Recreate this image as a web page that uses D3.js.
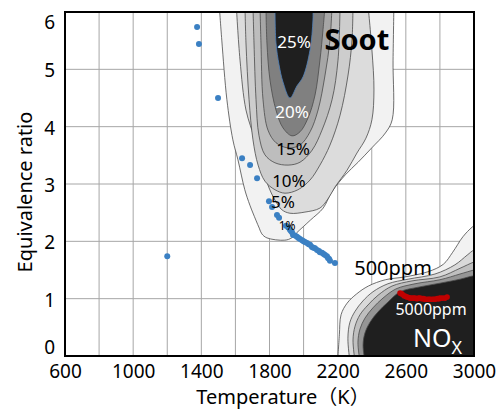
<!DOCTYPE html>
<html>
<head>
<meta charset="utf-8">
<script src="https://cdn.jsdelivr.net/npm/d3@7"></script>
<style>
body { margin: 0; background: #fff; }
svg { display: block; }
text { font-family: "Noto Sans", "Noto Sans CJK SC", sans-serif; }
</style>
</head>
<body>
<div id="chart"></div>
<script>
const width = 498;
const height = 411;

// axis ticks
const xTicks = [600, 1000, 1400, 1800, 2200, 2600, 3000];
const xGrid = [600, 800, 1000, 1200, 1400, 1600, 1800, 2000, 2200, 2400, 2600, 2800, 3000];
const yTicks = [0, 1, 2, 3, 4, 5, 6];

// soot contours, outermost first: [temperature K, equivalence ratio]
const soot1 = [[1505,6.12],[1520,5.51],[1550,4.47],[1585,3.77],[1615,3.42],[1655,2.90],[1685,2.63],[1720,2.37],[1740,2.23],[1755,2.13],[1785,2.06],[1890,2.02],[1930,2.06],[1960,2.15],[2040,2.37],[2115,2.58],[2165,2.86],[2245,3.16],[2320,3.38],[2400,3.63],[2480,3.89],[2520,4.12],[2525,5.16],[2530,6.12]];
const soot2 = [[1605,6.12],[1627,5.16],[1662,4.29],[1715,3.77],[1756,3.33],[1791,2.98],[1832,2.72],[1873,2.55],[1920,2.49],[2008,2.51],[2096,2.58],[2143,2.74],[2185,2.95],[2255,3.24],[2313,3.54],[2366,3.80],[2401,4.12],[2413,4.64],[2401,5.34],[2378,6.12]];
const soot3 = [[1656,6.12],[1662,5.46],[1680,4.47],[1703,3.77],[1733,3.33],[1773,3.05],[1832,2.90],[1891,2.84],[1967,2.90],[2038,3.07],[2096,3.33],[2155,3.68],[2214,4.20],[2261,4.90],[2284,5.51],[2290,6.12]];
const soot4 = [[1703,6.12],[1709,5.46],[1721,4.47],[1738,3.85],[1773,3.51],[1832,3.37],[1909,3.33],[1979,3.38],[2050,3.59],[2108,3.94],[2167,4.47],[2202,5.16],[2214,6.12]];
const soot5 = [[1744,6.12],[1750,5.46],[1762,4.47],[1791,3.94],[1838,3.72],[1909,3.63],[1979,3.68],[2038,3.91],[2085,4.29],[2126,4.90],[2155,5.51],[2167,6.12]];
const soot6 = [[1779,6.12],[1785,5.46],[1803,4.81],[1838,4.29],[1879,3.98],[1932,3.84],[1979,3.91],[2026,4.15],[2067,4.55],[2096,5.16],[2114,5.69],[2126,6.12]];
const soot7 = [[1832,6.12],[1838,5.46],[1856,5.08],[1879,4.78],[1920,4.50],[1961,4.71],[1997,4.87],[2038,5.34],[2055,5.86],[2055,6.12]];
const sootFills = ["#f2f2f2", "#dcdcdc", "#cdcdcd", "#bdbdbd", "#a6a6a6", "#808080", "#1f1f1f"];

// NOx contours, outermost first (open to the lower right)
const nox1 = [[2200,-0.1],[2210,0.37],[2220,0.72],[2255,0.92],[2310,1.08],[2380,1.22],[2480,1.33],[2595,1.38],[2730,1.47],[2820,1.60],[2875,1.81],[2935,2.08],[2990,2.25],[3035,2.34]];
const nox2 = [[2272,-0.1],[2260,0.31],[2272,0.59],[2302,0.78],[2348,0.96],[2407,1.12],[2495,1.26],[2613,1.34],[2771,1.43],[2888,1.59],[2960,1.76],[3000,1.85],[3035,1.88]];
const nox3 = [[2302,-0.1],[2290,0.28],[2302,0.52],[2331,0.72],[2378,0.89],[2437,1.06],[2519,1.22],[2636,1.31],[2800,1.38],[2918,1.53],[3000,1.64],[3035,1.67]];
const nox4 = [[2331,-0.1],[2319,0.24],[2331,0.47],[2360,0.66],[2407,0.84],[2466,1.01],[2542,1.17],[2654,1.26],[2800,1.33],[2918,1.43],[3000,1.50],[3035,1.52]];
const nox5 = [[2360,-0.1],[2349,0.19],[2360,0.40],[2390,0.59],[2437,0.77],[2495,0.94],[2566,1.12],[2672,1.20],[2800,1.27],[2918,1.34],[3000,1.40],[3035,1.40]];
const noxFills = ["#f2f2f2", "#d9d9d9", "#bfbfbf", "#959595", "#1f1f1f"];

// blue operating points
const blueT =   [1375, 1386, 1498, 1200, 1639, 1686, 1727, 1797, 1815, 1844, 1856, 1897, 1910, 1920, 1926, 1932, 1938, 1950, 1961, 1970, 1979, 1991, 2000, 2008, 2020, 2030, 2038, 2049, 2058, 2067, 2079, 2090, 2096, 2108, 2118, 2126, 2137, 2143, 2150, 2155, 2184];
const bluePhi = [5.74, 5.44, 4.50, 1.74, 3.45, 3.33, 3.10, 2.70, 2.60, 2.46, 2.41, 2.27, 2.24, 2.20, 2.18, 2.16, 2.11, 2.10, 2.08, 2.06, 2.04, 2.02, 2.00, 1.99, 1.97, 1.95, 1.94, 1.90, 1.89, 1.88, 1.85, 1.83, 1.81, 1.80, 1.78, 1.76, 1.74, 1.71, 1.69, 1.66, 1.62];

// red points
const redT =   [2566, 2572, 2578, 2589, 2598, 2607, 2616, 2624, 2635, 2645, 2654, 2665, 2675, 2683, 2695, 2705, 2713, 2725, 2735, 2742, 2755, 2765, 2771, 2785, 2795, 2801, 2815, 2830, 2842];
const redPhi = [1.10, 1.09, 1.08, 1.05, 1.04, 1.03, 1.02, 1.01, 1.01, 1.01, 1.01, 1.00, 1.01, 1.01, 1.00, 1.00, 0.99, 0.99, 0.99, 0.99, 0.99, 0.99, 0.99, 1.00, 1.00, 1.01, 1.01, 1.01, 1.03];

const sootLabels = [
    {text: "25%", T: 1944, phi: 5.37, color: "#fff", size: 17},
    {text: "20%", T: 1932, phi: 4.15, color: "#fff", size: 17},
    {text: "15%", T: 1938, phi: 3.51, color: "#000", size: 17},
    {text: "10%", T: 1914, phi: 2.95, color: "#000", size: 17},
    {text: "5%", T: 1879, phi: 2.58, color: "#000", size: 17},
    {text: "1%", T: 1903, phi: 2.20, color: "#000", size: 12}
];

const svg = d3.select("#chart")
    .append("svg")
    .attr("width", width)
    .attr("height", height);

const x = d3.scaleLinear().domain([600, 3000]).range([65, 474]);
const y = d3.scaleLinear().domain([0, 6]).range([356, 12]);

svg.append("clipPath")
    .attr("id", "plot")
    .append("rect")
    .attr("x", x(600))
    .attr("y", y(6))
    .attr("width", x(3000) - x(600))
    .attr("height", y(0) - y(6));

// grid
svg.append("g")
    .selectAll("line")
    .data(xGrid)
    .join("line")
    .attr("x1", d => x(d)).attr("x2", d => x(d))
    .attr("y1", y(0)).attr("y2", y(6))
    .attr("stroke", "#a6a6a6")
    .attr("stroke-width", 1);

svg.append("g")
    .selectAll("line")
    .data(yTicks)
    .join("line")
    .attr("x1", x(600)).attr("x2", x(3000))
    .attr("y1", d => y(d)).attr("y2", d => y(d))
    .attr("stroke", "#a6a6a6")
    .attr("stroke-width", 1);

const line = d3.line()
    .x(d => x(d[0]))
    .y(d => y(d[1]))
    .curve(d3.curveCatmullRom.alpha(0.5));

const plot = svg.append("g").attr("clip-path", "url(#plot)");

// soot
const soot = [soot1, soot2, soot3, soot4, soot5, soot6, soot7];
plot.append("g")
    .selectAll("path")
    .data(soot)
    .join("path")
    .attr("d", d => line(d) + "Z")
    .attr("fill", (d, i) => sootFills[i])
    .attr("stroke", (d, i) => i === soot.length - 1 ? "#4f81bd" : "#4a4a4a")
    .attr("stroke-width", 0.8);

// NOx
const nox = [nox1, nox2, nox3, nox4, nox5];
plot.append("g")
    .selectAll("path")
    .data(nox)
    .join("path")
    .attr("d", d => line(d) + `L${x(3035)},${y(-0.1)}Z`)
    .attr("fill", (d, i) => noxFills[i])
    .attr("stroke", "#4a4a4a")
    .attr("stroke-width", 0.8);

// points
plot.append("g")
    .selectAll("circle")
    .data(blueT.map((t, i) => [t, bluePhi[i]]))
    .join("circle")
    .attr("cx", d => x(d[0]))
    .attr("cy", d => y(d[1]))
    .attr("r", 3)
    .attr("fill", "#3b80c3");

plot.append("g")
    .selectAll("circle")
    .data(redT.map((t, i) => [t, redPhi[i]]))
    .join("circle")
    .attr("cx", d => x(d[0]))
    .attr("cy", d => y(d[1]))
    .attr("r", 2.8)
    .attr("fill", "#c00000");

// labels
svg.append("g")
    .selectAll("text")
    .data(sootLabels)
    .join("text")
    .attr("x", d => x(d.T))
    .attr("y", d => y(d.phi))
    .attr("text-anchor", "middle")
    .attr("font-size", d => d.size)
    .attr("fill", d => d.color)
    .text(d => d.text);

svg.append("text")
    .attr("x", x(2313)).attr("y", y(5.34))
    .attr("text-anchor", "middle")
    .attr("font-size", 29)
    .attr("font-weight", "bold")
    .text("Soot");

svg.append("text")
    .attr("x", x(2525)).attr("y", y(1.41))
    .attr("text-anchor", "middle")
    .attr("font-size", 20)
    .text("500ppm");

svg.append("text")
    .attr("x", x(2748)).attr("y", y(0.72))
    .attr("text-anchor", "middle")
    .attr("font-size", 16)
    .attr("fill", "#fff")
    .text("5000ppm");

const noxLabel = svg.append("text")
    .attr("x", x(2642)).attr("y", y(0.16))
    .attr("font-size", 25)
    .attr("fill", "#fff")
    .text("NO");
noxLabel.append("tspan")
    .attr("dy", 7)
    .attr("font-size", 18)
    .text("X");

// frame
svg.append("rect")
    .attr("x", x(600)).attr("y", y(6))
    .attr("width", x(3000) - x(600))
    .attr("height", y(0) - y(6))
    .attr("fill", "none")
    .attr("stroke", "#000")
    .attr("stroke-width", 2);

// axes
const xAxis = svg.append("g")
    .attr("transform", `translate(0,${y(0)})`)
    .call(d3.axisBottom(x).tickValues(xTicks).tickFormat(d3.format("d")).tickSize(0).tickPadding(9));
xAxis.select(".domain").remove();
xAxis.selectAll("text")
    .attr("font-size", 19)
    .attr("fill", "#000")
    .attr("font-family", "Noto Sans");

const yAxis = svg.append("g")
    .attr("transform", `translate(${x(600)},0)`)
    .call(d3.axisLeft(y).tickValues(yTicks).tickFormat(d3.format("d")).tickSize(0).tickPadding(10));
yAxis.select(".domain").remove();
yAxis.selectAll("text")
    .attr("font-size", 19)
    .attr("fill", "#000")
    .attr("font-family", "Noto Sans")
    .attr("dy", d => d === 6 ? "0.85em" : d === 0 ? "-0.15em" : "0.4em");

svg.append("text")
    .attr("x", 283).attr("y", 404)
    .attr("text-anchor", "middle")
    .attr("font-size", 20)
    .text("Temperature（K）");

svg.append("text")
    .attr("transform", `translate(32,${(y(0) + y(6)) / 2 + 8}) rotate(-90)`)
    .attr("text-anchor", "middle")
    .attr("font-size", 20)
    .text("Equivalence ratio");
</script>
</body>
</html>
